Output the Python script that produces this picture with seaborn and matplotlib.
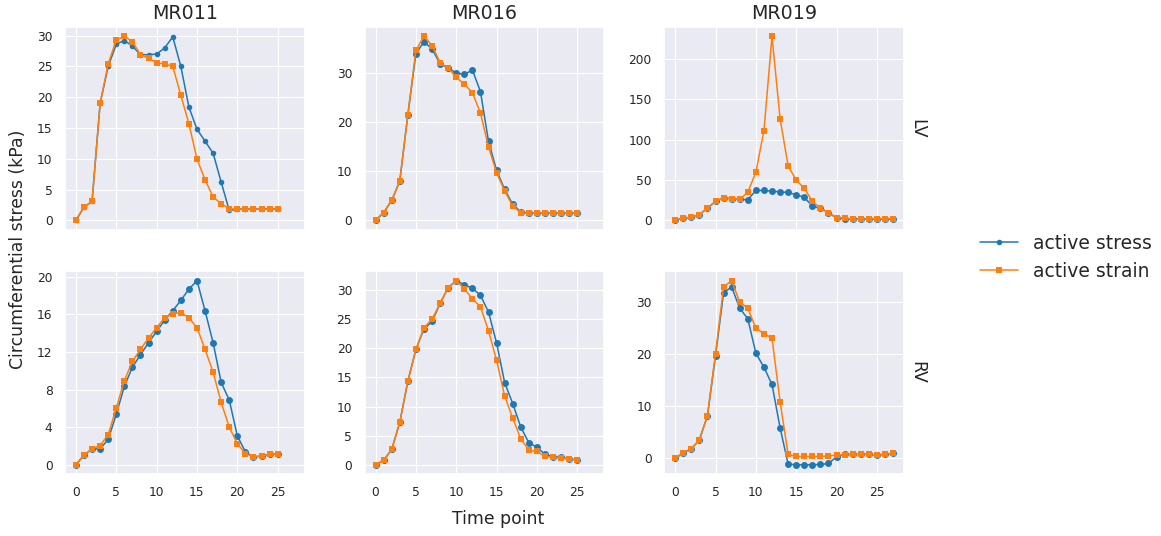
import numpy as np
import pandas as pd
import matplotlib
matplotlib.use("Agg")
import matplotlib.pyplot as plt
import seaborn as sns

# Datos
cases = ["MR011", "MR016", "MR019"]
chambers = ["LV", "RV"]
models = ["active stress", "active strain"]

# LV
mr011_lv_stress = [0, 2.15, 3.06, 19.0, 25.0, 28.6, 29.2, 28.3, 26.9, 26.9, 27.0, 28.0, 29.8, 25.0,
                   18.4, 14.8, 12.85, 10.9, 6.2, 1.6, 1.8, 1.85, 1.85, 1.85, 1.85, 1.85]
mr011_lv_strain = [0, 2.15, 3.06, 19.0, 25.4, 29.3, 29.9, 29.0, 26.9, 26.3, 25.6, 25.4, 25.0, 20.3,
                   15.7, 9.95, 6.6, 3.8, 2.7, 1.9, 1.8, 1.85, 1.85, 1.85, 1.85, 1.85]
mr016_lv_stress = [0, 1.56, 4.06, 8.0, 21.5, 34.0, 36.5, 35.0, 32.0, 31.1, 30.1, 29.8, 30.7, 26.3,
                   16.1, 10.2, 6.3, 3.25, 1.7, 1.5, 1.56, 1.5, 1.5, 1.5, 1.5, 1.5]
mr016_lv_strain = [0, 1.56, 4.06, 7.99, 21.5, 34.7, 37.6, 35.7, 32.2, 31.1, 29.2, 27.8, 26.1, 21.9,
                   15.0, 9.7, 6.0, 2.9, 1.56, 1.42, 1.56, 1.5, 1.5, 1.5, 1.5, 1.5]
mr019_lv_stress = [0, 2.9, 3.7, 7.0, 15.2, 23.4, 27.9, 26.7, 25.9, 25.5, 37.0, 37.0, 36.1, 35.3,
                   34.5, 31.6, 28.7, 17.2, 15.2, 9.4, 2.9, 2.0, 1.5, 1.5, 1.8, 1.8, 1.8, 1.8]
mr019_lv_strain = [0, 2.9, 3.7, 7.0, 15.2, 23.4, 27.9, 26.7, 25.9, 34.9, 59.5, 110.9, 228.0, 126.0,
                   67.4, 49.7, 39.8, 23.4, 15.2, 9.4, 3.3, 2.9, 1.2, 1.2, 2.0, 2.0, 2.0, 2.0]
# RV
mr011_rv_stress = [0, 1.02, 1.7, 1.7, 2.7, 5.37, 8.34, 10.4, 11.7, 13.0, 14.2, 15.4, 16.4, 17.5,
                   18.7, 19.6, 16.4, 13.0, 8.76, 6.9, 3.07, 1.38, 0.81, 0.95, 1.1, 1.17]
mr011_rv_strain = [0, 1.02, 1.7, 2.05, 3.2, 6.04, 8.97, 11.0, 12.3, 13.5, 14.6, 15.65, 16.1, 16.2,
                   15.65, 14.6, 12.3, 9.86, 6.64, 4.0, 2.26, 1.2, 0.81, 0.95, 1.1, 1.17]
mr016_rv_stress = [0, 0.74, 2.63, 7.26, 14.3, 19.8, 23.3, 24.6, 27.7, 30.4, 31.6, 30.9, 30.3, 29.1,
                   26.2, 20.9, 14.1, 10.5, 6.46, 3.77, 3.03, 1.77, 1.37, 1.31, 0.97, 0.86]
mr016_rv_strain = [0, 0.74, 2.63, 7.26, 14.3, 19.8, 23.5, 25.0, 27.7, 30.4, 31.6, 30.2, 28.5, 27.1,
                   23.0, 17.9, 11.8, 8.0, 4.46, 2.5, 2.3, 1.43, 1.26, 1.14, 0.97, 0.86]
mr019_rv_stress = [0, 1.08, 1.85, 3.57, 8.17, 19.7, 31.8, 32.9, 28.8, 26.8, 20.2, 17.5, 14.2, 5.9,
                   -1.08, -1.21, -1.21, -1.21, -1.15, -0.96, 0.32, 0.77, 0.77, 0.77, 0.83, 0.64, 0.83, 0.96]
mr019_rv_strain = [0, 1.08, 1.85, 3.57, 8.17, 20.1, 32.9, 34.1, 30.0, 28.8, 25.0, 23.9, 23.1, 10.9,
                   0.77, 0.38, 0.38, 0.38, 0.38, 0.51, 0.64, 0.7, 0.77, 0.77, 0.83, 0.64, 0.83, 0.96]

series = {
    ("MR011", "LV"): (mr011_lv_stress, mr011_lv_strain),
    ("MR016", "LV"): (mr016_lv_stress, mr016_lv_strain),
    ("MR019", "LV"): (mr019_lv_stress, mr019_lv_strain),
    ("MR011", "RV"): (mr011_rv_stress, mr011_rv_strain),
    ("MR016", "RV"): (mr016_rv_stress, mr016_rv_strain),
    ("MR019", "RV"): (mr019_rv_stress, mr019_rv_strain),
}

# Tabla larga
rows = []
for (case, chamber), (stress, strain) in series.items():
    for model, vals in zip(models, (stress, strain)):
        for t, v in enumerate(vals):
            rows.append({"case": case, "chamber": chamber, "model": model, "time": t, "value": v})
df = pd.DataFrame(rows)

# Estilo
sns.set_theme(style="darkgrid", rc={"grid.linewidth": 0.8})
plt.rcParams["font.family"] = ["DejaVu Sans"]

colors = {"active stress": "#1f77b4", "active strain": "#ff7f0e"}
markers = {"active stress": "o", "active strain": "s"}
ytick_step = {("MR011", "LV"): 5, ("MR016", "LV"): 10, ("MR019", "LV"): 50,
              ("MR011", "RV"): 4, ("MR016", "RV"): 5, ("MR019", "RV"): 10}

fig, axes = plt.subplots(2, 3, figsize=(11.61, 5.36), dpi=100, sharex=True)
fig.subplots_adjust(left=0.056, right=0.7786, top=0.9496, bottom=0.1157, wspace=0.25, hspace=0.207)

for i, chamber in enumerate(chambers):
    for j, case in enumerate(cases):
        ax = axes[i, j]
        sub = df[(df["case"] == case) & (df["chamber"] == chamber)]
        for model in models:
            d = sub[sub["model"] == model]
            sns.lineplot(data=d, x="time", y="value", ax=ax, color=colors[model],
                         marker=markers[model], markersize=5, markeredgewidth=0,
                         linewidth=1.1, label=model, legend=False)
        ax.yaxis.set_major_locator(plt.MultipleLocator(ytick_step[(case, chamber)]))
        ax.set_xlabel("")
        ax.set_ylabel("")
        ax.tick_params(labelsize=8.8, pad=3)
        ax.xaxis.set_tick_params(labelbottom=(i == 1))
        if i == 0:
            ax.set_title(case, fontsize=13.7)
        if j == 2:
            ax.annotate(chamber, xy=(1, 0.5), xycoords="axes fraction", xytext=(3, 0),
                        textcoords="offset points", rotation=270, va="center", ha="left",
                        fontsize=12.4)

axes[0, 0].set_xticks([0, 5, 10, 15, 20, 25])

handles, labels = axes[0, 0].get_legend_handles_labels()
for h in handles:
    h.set_markersize(4)
fig.legend(handles, labels, loc="center left", bbox_to_anchor=(0.8296, 0.52),
           frameon=False, fontsize=13.5)

fig.text(18 / 1161, 0.534, "Circumferential stress (kPa)", rotation=90,
         va="center", ha="center", fontsize=12.4)
fig.text(498 / 1161, 0.032, "Time point", va="center", ha="center", fontsize=12.4)

plt.savefig("out.png", dpi=100)
